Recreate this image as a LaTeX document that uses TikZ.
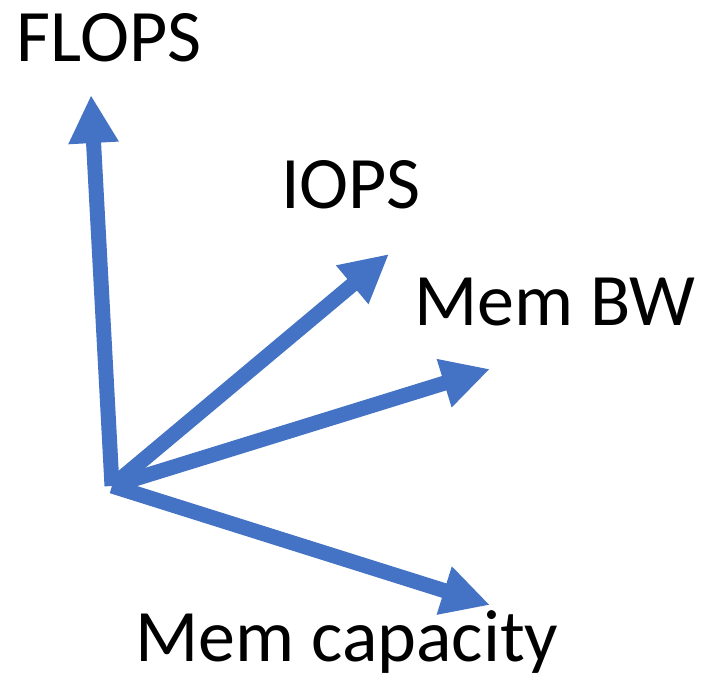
\documentclass[tikz,border=0pt]{standalone}
\usepackage{fontspec}
\setmainfont{Carlito}
\usepackage{tikz}
\usetikzlibrary{arrows.meta}
\usepackage{xcolor}
\definecolor{ColWhite}{RGB}{255,255,255}
\definecolor{ColAxis}{RGB}{68,114,196}
\tikzstyle{AxisArrow}=[ColAxis,line width=15pt,-{Triangle[length=48pt,width=47pt]}]
\tikzstyle{AxisLabel}=[inner sep=0pt,font=\fontsize{74}{80}\selectfont]

\begin{document}
\begin{tikzpicture}[x=1pt,y=-1pt]
        \useasboundingbox[fill=ColWhite](0,0)rectangle(704,681);
        \coordinate(o)at(112,486);
        \coordinate(flops)at(91,95);
        \coordinate(iops)at(389,254);
        \coordinate(membw)at(490,369);
        \coordinate(memcap)at(490,605);
        \node[AxisLabel](lflops)at(109,38){FLOPS};
        \node[AxisLabel](liops)at(351,185){IOPS};
        \node[AxisLabel](lmembw)at(555,302){Mem BW};
        \node[AxisLabel,anchor=base](lmemcap)at(347,661){Mem capacity};
        \draw[AxisArrow](o)--(flops);
        \draw[AxisArrow](o)--(iops);
        \draw[AxisArrow](o)--(membw);
        \draw[AxisArrow](o)--(memcap);
    \end{tikzpicture}
\end{document}
